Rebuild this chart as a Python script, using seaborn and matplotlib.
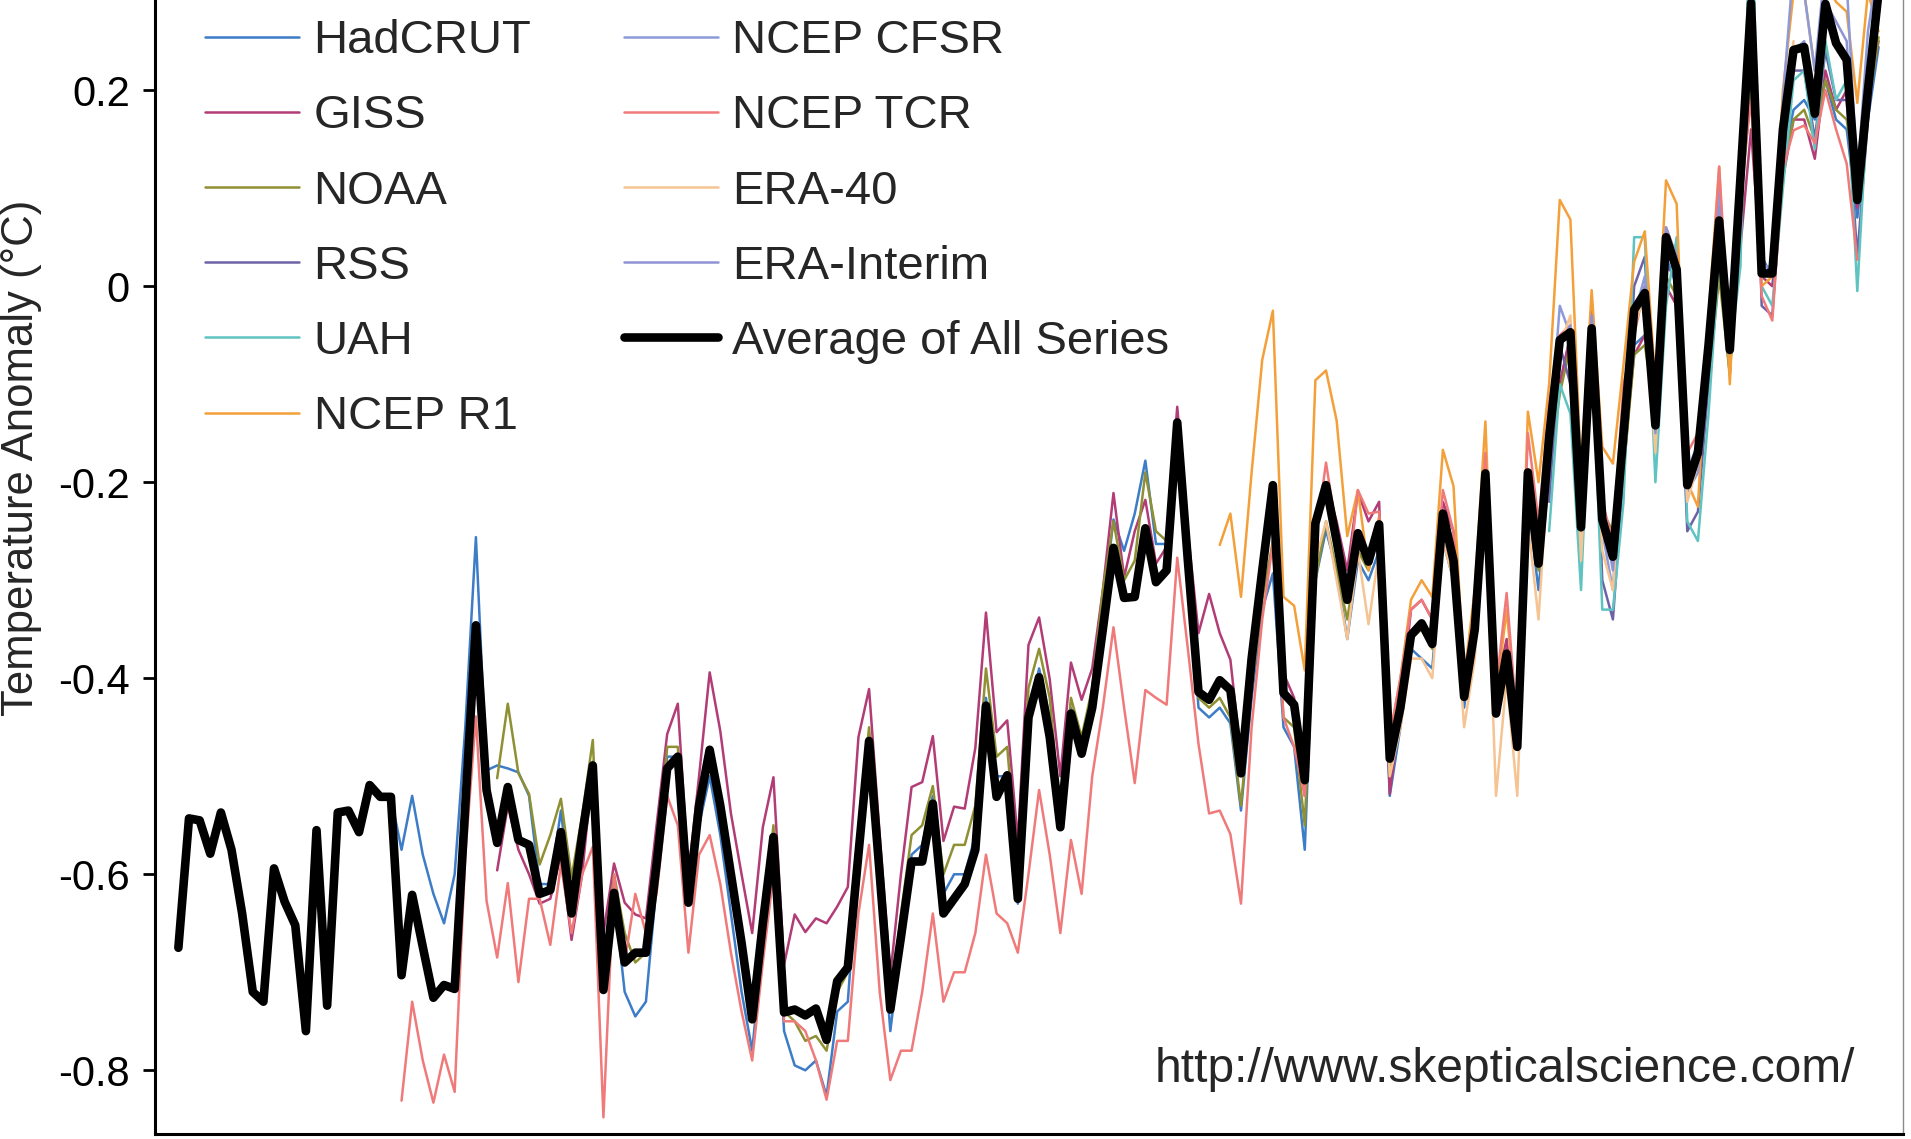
import matplotlib
matplotlib.use("Agg")
import matplotlib.pyplot as plt
import seaborn as sns
import pandas as pd

# ---- annual temperature anomalies (deg C) ----
AVG_START = 1850
average_all = [
    -0.675, -0.543, -0.545, -0.579, -0.537, -0.575, -0.640, -0.720, -0.730, -0.594,
    -0.628, -0.652, -0.760, -0.555, -0.734, -0.537, -0.535, -0.557, -0.509, -0.521,
    -0.521, -0.703, -0.621, -0.674, -0.726, -0.713, -0.717, -0.530, -0.346, -0.514,
    -0.568, -0.511, -0.565, -0.570, -0.620, -0.616, -0.557, -0.640, -0.560, -0.489,
    -0.718, -0.619, -0.690, -0.680, -0.680, -0.590, -0.492, -0.480, -0.629, -0.530,
    -0.473, -0.530, -0.600, -0.670, -0.748, -0.650, -0.562, -0.741, -0.738, -0.744,
    -0.737, -0.769, -0.709, -0.695, -0.580, -0.464, -0.600, -0.738, -0.664, -0.587,
    -0.587, -0.528, -0.640, -0.625, -0.610, -0.575, -0.428, -0.521, -0.499, -0.625,
    -0.440, -0.399, -0.460, -0.552, -0.436, -0.477, -0.430, -0.350, -0.267, -0.318,
    -0.317, -0.247, -0.302, -0.290, -0.139, -0.280, -0.414, -0.422, -0.402, -0.412,
    -0.497, -0.380, -0.290, -0.203, -0.415, -0.427, -0.504, -0.242, -0.203, -0.260,
    -0.320, -0.252, -0.281, -0.243, -0.482, -0.430, -0.356, -0.344, -0.365, -0.232,
    -0.280, -0.419, -0.350, -0.191, -0.436, -0.375, -0.470, -0.190, -0.283, -0.154,
    -0.055, -0.047, -0.246, -0.043, -0.238, -0.276, -0.150, -0.024, -0.007, -0.142,
    0.050, 0.017, -0.203, -0.170, -0.060, 0.067, -0.065, 0.110, 0.289, 0.013,
    0.013, 0.160, 0.241, 0.244, 0.176, 0.288, 0.248, 0.231, 0.088, 0.200,
    0.300,
]

HADCRUT_START = 1850
hadcrut = [
    -0.675, -0.543, -0.545, -0.579, -0.537, -0.575, -0.640, -0.720, -0.730, -0.594,
    -0.628, -0.652, -0.760, -0.555, -0.734, -0.537, -0.535, -0.557, -0.509, -0.521,
    -0.521, -0.575, -0.520, -0.580, -0.620, -0.650, -0.600, -0.450, -0.256, -0.494,
    -0.489, -0.492, -0.496, -0.520, -0.610, -0.610, -0.535, -0.630, -0.560, -0.485,
    -0.720, -0.620, -0.720, -0.745, -0.730, -0.610, -0.480, -0.480, -0.630, -0.550,
    -0.500, -0.560, -0.640, -0.720, -0.780, -0.670, -0.570, -0.760, -0.795, -0.800,
    -0.790, -0.826, -0.740, -0.730, -0.580, -0.470, -0.620, -0.760, -0.670, -0.580,
    -0.570, -0.520, -0.620, -0.600, -0.600, -0.560, -0.420, -0.500, -0.500, -0.630,
    -0.440, -0.390, -0.440, -0.550, -0.430, -0.470, -0.430, -0.330, -0.238, -0.270,
    -0.232, -0.178, -0.263, -0.263, -0.154, -0.280, -0.430, -0.440, -0.430, -0.446,
    -0.535, -0.420, -0.330, -0.293, -0.450, -0.470, -0.575, -0.300, -0.249, -0.290,
    -0.360, -0.280, -0.300, -0.270, -0.520, -0.450, -0.370, -0.380, -0.390, -0.260,
    -0.300, -0.430, -0.340, -0.200, -0.430, -0.370, -0.470, -0.220, -0.310, -0.190,
    -0.100, -0.050, -0.220, -0.060, -0.240, -0.260, -0.190, -0.060, -0.050, -0.140,
    0.030, 0.000, -0.190, -0.160, -0.090, 0.030, -0.090, 0.100, 0.240, 0.030,
    0.010, 0.130, 0.180, 0.190, 0.170, 0.210, 0.170, 0.160, 0.070, 0.170,
    0.244,
]

GISS_START = 1880
giss = [
    -0.596, -0.530, -0.575, -0.600, -0.630, -0.625, -0.580, -0.667, -0.600, -0.490,
    -0.660, -0.589, -0.629, -0.641, -0.645, -0.550, -0.457, -0.426, -0.600, -0.500,
    -0.394, -0.454, -0.538, -0.600, -0.660, -0.552, -0.501, -0.692, -0.641, -0.659,
    -0.645, -0.650, -0.633, -0.613, -0.460, -0.411, -0.560, -0.703, -0.600, -0.511,
    -0.506, -0.459, -0.566, -0.531, -0.533, -0.471, -0.333, -0.455, -0.443, -0.566,
    -0.366, -0.338, -0.401, -0.500, -0.384, -0.422, -0.390, -0.310, -0.211, -0.297,
    -0.250, -0.218, -0.283, -0.266, -0.123, -0.250, -0.354, -0.314, -0.354, -0.381,
    -0.480, -0.360, -0.290, -0.225, -0.395, -0.420, -0.520, -0.250, -0.200, -0.240,
    -0.290, -0.210, -0.240, -0.220, -0.518, -0.430, -0.330, -0.320, -0.340, -0.220,
    -0.250, -0.400, -0.330, -0.190, -0.410, -0.360, -0.470, -0.220, -0.270, -0.200,
    -0.100, -0.050, -0.220, -0.070, -0.240, -0.260, -0.180, -0.070, -0.050, -0.130,
    0.000, -0.020, -0.200, -0.180, -0.100, 0.020, -0.070, 0.040, 0.160, 0.010,
    0.000, 0.110, 0.170, 0.170, 0.130, 0.220, 0.180, 0.200, 0.080, 0.190,
    0.250,
]

NOAA_START = 1880
noaa = [
    -0.502, -0.426, -0.497, -0.518, -0.590, -0.560, -0.523, -0.603, -0.540, -0.463,
    -0.700, -0.600, -0.660, -0.690, -0.680, -0.600, -0.470, -0.470, -0.620, -0.540,
    -0.470, -0.520, -0.600, -0.680, -0.740, -0.650, -0.550, -0.740, -0.750, -0.770,
    -0.765, -0.780, -0.720, -0.700, -0.560, -0.450, -0.600, -0.740, -0.640, -0.560,
    -0.550, -0.510, -0.600, -0.570, -0.570, -0.530, -0.390, -0.480, -0.470, -0.600,
    -0.410, -0.370, -0.420, -0.540, -0.420, -0.460, -0.410, -0.310, -0.240, -0.300,
    -0.280, -0.190, -0.250, -0.260, -0.140, -0.260, -0.420, -0.430, -0.420, -0.440,
    -0.530, -0.410, -0.320, -0.260, -0.440, -0.450, -0.550, -0.300, -0.240, -0.290,
    -0.340, -0.270, -0.290, -0.250, -0.500, -0.440, -0.360, -0.350, -0.370, -0.240,
    -0.280, -0.420, -0.340, -0.200, -0.430, -0.380, -0.470, -0.210, -0.290, -0.190,
    -0.110, -0.060, -0.210, -0.060, -0.230, -0.250, -0.190, -0.070, -0.060, -0.130,
    0.010, -0.010, -0.190, -0.170, -0.100, 0.010, -0.090, 0.080, 0.200, 0.020,
    0.010, 0.120, 0.170, 0.180, 0.150, 0.210, 0.180, 0.170, 0.090, 0.180,
    0.254,
]

SAT_START = 1979
rss = [
    -0.220, -0.060, -0.100, -0.270, -0.020, -0.300, -0.340, -0.190, 0.000, 0.030,
    -0.170, 0.020, 0.010, -0.250, -0.230, -0.100, 0.050, -0.060, 0.080, 0.360,
    -0.020, -0.030, 0.120, 0.220, 0.220, 0.150, 0.240, 0.190, 0.190, 0.030,
    0.170, 0.280,
]
uah = [
    -0.250, -0.100, -0.130, -0.310, -0.050, -0.330, -0.330, -0.220, 0.050, 0.050,
    -0.200, -0.020, 0.050, -0.240, -0.260, -0.130, 0.030, -0.070, 0.020, 0.420,
    0.000, -0.020, 0.100, 0.210, 0.220, 0.140, 0.250, 0.190, 0.210, -0.005,
    0.190, 0.280,
]
era_interim = [
    -0.170, -0.060, -0.040, -0.240, -0.030, -0.230, -0.290, -0.170, -0.030, 0.000,
    -0.150, 0.060, 0.030, -0.200, -0.170, -0.070, 0.080, -0.050, 0.120, 0.290,
    0.020, 0.020, 0.170, 0.240, 0.250, 0.190, 0.290, 0.270, 0.250, 0.090,
    0.220, 0.300,
]
ncep_cfsr = [
    -0.160, -0.020, -0.050, -0.260, -0.030, -0.250, -0.310, -0.120, -0.030, 0.010,
    -0.120, 0.040, 0.030, -0.210, -0.190, -0.060, 0.100, -0.060, 0.140, 0.320,
    0.020, 0.010, 0.190, 0.330, 0.300, 0.220, 0.330, 0.320, 0.310, 0.110,
    0.260, 0.330,
]

R1_START = 1948
ncep_r1 = [
    -0.264, -0.232,
    -0.317, -0.190, -0.075, -0.025, -0.317, -0.326, -0.392, -0.096, -0.086, -0.137,
    -0.255, -0.208, -0.290, -0.235, -0.460, -0.400, -0.320, -0.300, -0.317, -0.167,
    -0.204, -0.400, -0.310, -0.138, -0.420, -0.330, -0.450, -0.128, -0.200, -0.100,
    0.088, 0.068, -0.190, -0.004, -0.164, -0.181, -0.080, 0.025, 0.056, -0.100,
    0.108, 0.084, -0.200, -0.225, -0.030, 0.122, -0.100, 0.120, 0.310, 0.000,
    0.010, 0.200, 0.300, 0.300, 0.220, 0.310, 0.290, 0.280, 0.187, 0.300,
    0.260,
]

TCR_START = 1871
ncep_tcr = [
    -0.831, -0.730, -0.790, -0.833, -0.784, -0.822, -0.580, -0.439, -0.627,
    -0.685, -0.609, -0.710, -0.625, -0.625, -0.672, -0.590, -0.660, -0.600, -0.572,
    -0.848, -0.600, -0.690, -0.620, -0.660, -0.620, -0.520, -0.550, -0.680, -0.580,
    -0.560, -0.610, -0.680, -0.740, -0.790, -0.690, -0.600, -0.750, -0.750, -0.760,
    -0.790, -0.830, -0.770, -0.770, -0.640, -0.570, -0.720, -0.810, -0.780, -0.780,
    -0.720, -0.640, -0.730, -0.700, -0.700, -0.660, -0.580, -0.640, -0.650, -0.680,
    -0.600, -0.514, -0.580, -0.660, -0.565, -0.620, -0.500, -0.430, -0.348, -0.430,
    -0.507, -0.412, -0.420, -0.427, -0.277, -0.370, -0.467, -0.538, -0.535, -0.559,
    -0.630, -0.450, -0.340, -0.262, -0.440, -0.470, -0.520, -0.260, -0.180, -0.250,
    -0.310, -0.208, -0.232, -0.230, -0.460, -0.400, -0.330, -0.320, -0.340, -0.208,
    -0.250, -0.400, -0.330, -0.170, -0.410, -0.313, -0.450, -0.150, -0.240, -0.120,
    -0.050, -0.040, -0.230, -0.030, -0.220, -0.260, -0.100, -0.050, 0.000, -0.130,
    0.060, 0.030, -0.170, -0.150, -0.050, 0.122, -0.060, 0.100, 0.190, -0.010,
    -0.035, 0.120, 0.159, 0.164, 0.146, 0.200, 0.160, 0.125, 0.027,
]

ERA40_START = 1957
era_40 = [
    -0.280, -0.240, -0.300,
    -0.360, -0.270, -0.345, -0.270, -0.500, -0.450, -0.380, -0.380, -0.400, -0.260,
    -0.300, -0.450, -0.380, -0.220, -0.520, -0.400, -0.520, -0.240, -0.340, -0.170,
    -0.060, -0.030, -0.280, -0.060, -0.270, -0.310, -0.160, -0.040, -0.010, -0.170,
    0.040, 0.020, -0.220, -0.180, -0.060, 0.070, -0.060, 0.100, 0.270, 0.020,
    0.020, 0.160, 0.250,
]

# name, start year, values, colour, line width (pt); drawn in this order
series = [
    ("HadCRUT", HADCRUT_START, hadcrut, "#3d7cc6", 1.8),
    ("GISS", GISS_START, giss, "#b23c76", 1.8),
    ("NOAA", NOAA_START, noaa, "#8f8f33", 1.8),
    ("RSS", SAT_START, rss, "#6e62a6", 1.8),
    ("UAH", SAT_START, uah, "#5ec3c1", 1.8),
    ("NCEP R1", R1_START, ncep_r1, "#f4a03a", 1.8),
    ("NCEP CFSR", SAT_START, ncep_cfsr, "#8d9ad9", 1.8),
    ("NCEP TCR", TCR_START, ncep_tcr, "#f07a7a", 1.8),
    ("ERA-40", ERA40_START, era_40, "#f6c392", 1.8),
    ("ERA-Interim", SAT_START, era_interim, "#8e93d3", 1.8),
    ("Average of All Series", AVG_START, average_all, "#000000", 6.2),
]

sns.set_style("ticks")
plt.rcParams["font.family"] = ["Liberation Sans", "DejaVu Sans"]

fig = plt.figure(figsize=(19.11, 11.39), dpi=100)
ax = fig.add_axes([155 / 1911, 5 / 1139, (1903 - 155) / 1911, (1139 - 5) / 1139])

handles = {}
for name, start, vals, color, lw in series:
    df = pd.DataFrame({"year": range(start, start + len(vals)), "anomaly": vals})
    sns.lineplot(data=df, x="year", y="anomaly", ax=ax, color=color,
                 linewidth=lw, label=name, legend=False)
    handles[name] = ax.lines[-1]

ax.set_xlim(1847.8, 2012.3)
ax.set_ylim(-0.865, 0.292)
ax.set_xlabel("")
ax.set_ylabel("")
ax.set_xticks([])
yt = [-0.8, -0.6, -0.4, -0.2, 0.0, 0.2]
ax.set_yticks(yt)
ax.set_yticklabels(["-0.8", "-0.6", "-0.4", "-0.2", "0", "0.2"])
ax.tick_params(axis="y", length=9, width=2, labelsize=30, pad=9,
               direction="out", colors="black")

ax.spines["top"].set_visible(False)
ax.spines["left"].set_linewidth(2.2)
ax.spines["bottom"].set_linewidth(2.2)
ax.spines["left"].set_color("black")
ax.spines["bottom"].set_color("black")
ax.spines["right"].set_linewidth(1.0)
ax.spines["right"].set_color("#8a8a8a")

order = [s[0] for s in series]
ax.legend([handles[n] for n in order], order, loc="upper left",
          bbox_to_anchor=(0.0286, 0.983), ncol=2, frameon=False, fontsize=34,
          handlelength=2.0, handletextpad=0.3, columnspacing=1.95,
          labelspacing=0.66, borderaxespad=0, borderpad=0)

fig.text(22 / 1911, 1 - 458 / 1139, "Temperature Anomaly (°C)", rotation=90,
         ha="center", va="center", fontsize=31.5)
fig.text(1855 / 1911, 1 - 1070 / 1139, "http://www.skepticalscience.com/",
         ha="right", va="center", fontsize=34.5)

fig.savefig("out.png", dpi=100)
